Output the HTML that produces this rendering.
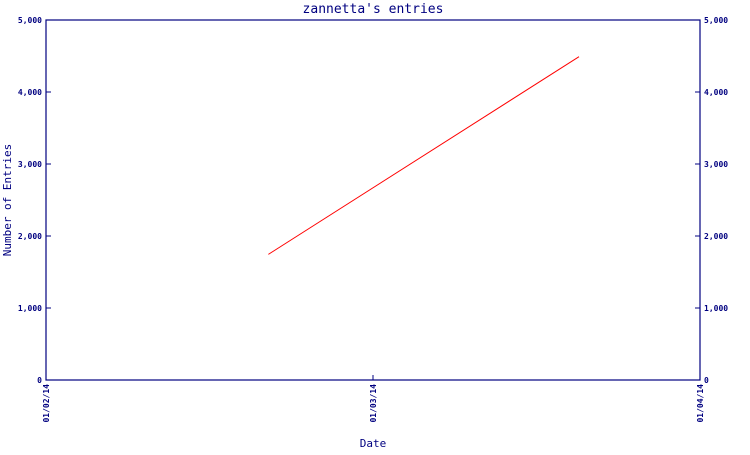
<!DOCTYPE html>
<html><head><meta charset="utf-8"><style>
html,body{margin:0;padding:0;background:#fff;}
svg text{font-family:"DejaVu Sans Mono","Liberation Mono",monospace;fill:#000080;}
</style></head><body>
<svg id="chart" width="750" height="450" xmlns="http://www.w3.org/2000/svg">
<text x="373" y="13" text-anchor="middle" font-size="13">zannetta's entries</text>
<text transform="translate(11,200) rotate(-90)" text-anchor="middle" font-size="11">Number of Entries</text>
<text x="373" y="447" text-anchor="middle" font-size="11">Date</text>
<rect x="46" y="20" width="654" height="360" fill="none" stroke="#000080" stroke-width="1.2"/>
<g id="axes"></g>
<g id="series"></g>
</svg>
<script>
const yTicks=[0,1000,2000,3000,4000,5000];
const yTickLabels=["0","1,000","2,000","3,000","4,000","5,000"];
const xTicks=[0,1,2];
const xTickLabels=["01/02/14","01/03/14","01/04/14"];
const seriesX=[0.68,1.63];
const seriesY=[1745,4490];
const L=46,R=700,T=20,B=380;
const xs=v=>L+(v-0)/(2-0)*(R-L);
const ys=v=>B-(v/5000)*(B-T);
const NS="http://www.w3.org/2000/svg";
const axes=document.getElementById('axes');
function mk(tag,attrs,parent){const e=document.createElementNS(NS,tag);for(const k in attrs)e.setAttribute(k,attrs[k]);parent.appendChild(e);return e;}
yTicks.forEach((v,i)=>{
  const y=ys(v);
  const t1=mk('line',{x1:L,x2:L+5,y1:y,y2:y,stroke:'#000080'},axes);
  
  
  const t2=mk('line',{x1:R-5,x2:R,y1:y,y2:y,stroke:'#000080'},axes);
  
  
  const a=mk('text',{x:L-4,y:y+3,'text-anchor':'end','font-size':'8','font-weight':'bold'},axes);
  a.textContent=yTickLabels[i];
  
  
  const b=mk('text',{x:R+4,y:y+3,'text-anchor':'start','font-size':'8','font-weight':'bold'},axes);
  b.textContent=yTickLabels[i];
  
  
});
xTicks.forEach((v,i)=>{
  const x=xs(v);
  const t=mk('line',{x1:x,x2:x,y1:B-5,y2:B,stroke:'#000080'},axes);
  
  
  const lb=mk('text',{transform:`translate(${x+3},${B+4}) rotate(-90)`,'text-anchor':'end','font-size':'8','font-weight':'bold'},axes);
  lb.textContent=xTickLabels[i];
  
  
});
const pts=seriesX.map((v,i)=>xs(v)+','+ys(seriesY[i])).join(' ');
const pl=mk('polyline',{points:pts,fill:'none',stroke:'#ff0000','stroke-width':'1'},document.getElementById('series'));


</script>
</body></html>
